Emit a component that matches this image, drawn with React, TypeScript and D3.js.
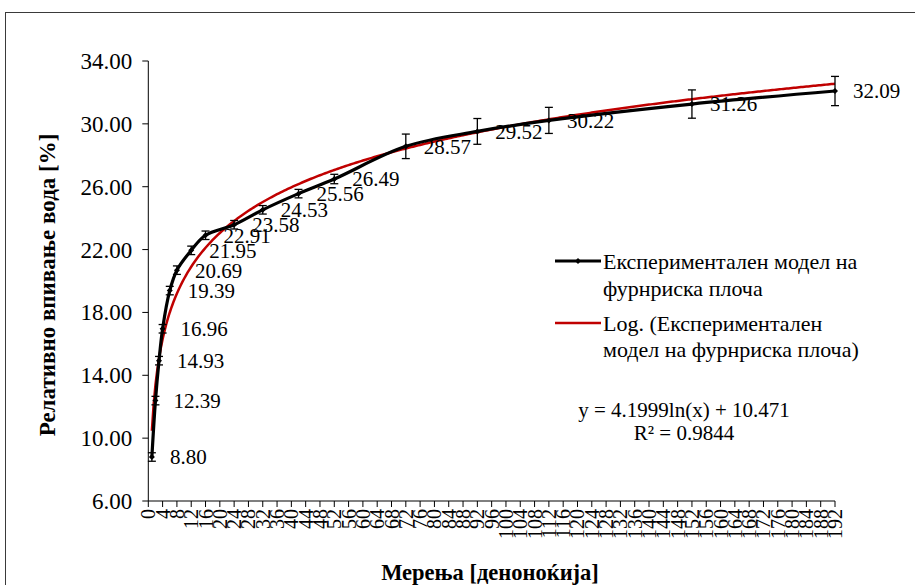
import React from "react";
import * as d3 from "d3";

const days = [1, 2, 3, 4, 6, 8, 12, 16, 24, 32, 42, 52, 72, 92, 112, 152, 192];
const values = [8.8, 12.39, 14.93, 16.96, 19.39, 20.69, 21.95, 22.91, 23.58, 24.53, 25.56, 26.49, 28.57, 29.52, 30.22, 31.26, 32.09];
const errors = [0.27, 0.27, 0.27, 0.27, 0.27, 0.27, 0.27, 0.27, 0.27, 0.27, 0.27, 0.3, 0.78, 0.82, 0.83, 0.9, 0.93];
const yTicks = [6, 10, 14, 18, 22, 26, 30, 34];
const xTicks = d3.range(0, 193, 4);
const trendA = 4.1999;
const trendB = 10.471;
const seriesName = "Експериментален модел на фурнриска плоча";
const legendLines1 = ["Експериментален модел на", "фурнриска плоча"];
const legendLines2 = ["Log. (Експериментален", "модел на фурнриска плоча)"];
const equationText = "y = 4.1999ln(x) + 10.471";
const r2Text = "R² = 0.9844";
const yTitle = "Релативно впивање вода [%]";
const xTitle = "Мерења [деноноќија]";

const FONT = "Liberation Serif, Times New Roman, serif";

export default function App() {
  const W = 915, H = 585;
  const x = d3.scaleLinear().domain([0, 192]).range([148.3, 835]);
  const y = d3.scaleLinear().domain([6, 34]).range([501, 61]);

  const pts = days.map((d, i) => [x(d), y(values[i])] as [number, number]);
  const line = d3.line().curve(d3.curveCatmullRom.alpha(0.5))(pts) || "";
  const trendPts = d3.range(1, 192.01, 0.5).map((t) => [x(t), y(trendA * Math.log(t) + trendB)] as [number, number]);
  const trendPath = d3.line()(trendPts) || "";

  const diamond = (cx: number, cy: number, r: number) =>
    `M${cx},${cy - r}L${cx + r},${cy}L${cx},${cy + r}L${cx - r},${cy}Z`;

  return (
    <svg width={W} height={H} style={{ position: "absolute", left: 0, top: 0, background: "#fff", fontFamily: FONT }}>
      <rect x={0} y={0} width={W} height={H} fill="#fff" />
      <rect x={5.5} y={12.5} width={W + 20} height={H + 20} fill="none" stroke="#3a3a3a" strokeWidth={1} />

      {/* Y axis */}
      <line x1={x(0)} x2={x(0)} y1={y(34)} y2={y(6)} stroke="#000" strokeWidth={1} />
      {yTicks.map((t) => (
        <g key={"yt" + t}>
          <line x1={x(0) - 6} x2={x(0)} y1={y(t)} y2={y(t)} stroke="#000" />
          <text x={x(0) - 16} y={y(t)} dy="0.35em" textAnchor="end" fontSize={23} fill="#000">
            {t.toFixed(2)}
          </text>
        </g>
      ))}

      {/* X axis */}
      <line x1={x(0)} x2={x(192)} y1={y(6)} y2={y(6)} stroke="#000" strokeWidth={1} />
      {xTicks.map((t) => (
        <g key={"xt" + t}>
          <line x1={x(t)} x2={x(t)} y1={y(6)} y2={y(6) + 6} stroke="#000" />
          <text
            transform={`translate(${x(t)},${y(6) + 8}) rotate(-90)`}
            dy="0.35em"
            textAnchor="end"
            fontSize={20}
            fill="#000"
          >
            {t}
          </text>
        </g>
      ))}

      {/* Trendline */}
      <path d={trendPath} fill="none" stroke="#c00000" strokeWidth={2.5} />

      {/* Series */}
      <path d={line} fill="none" stroke="#000" strokeWidth={3.2} />
      {days.map((d, i) => {
        const cx = x(d);
        const top = y(values[i] + errors[i]);
        const bot = y(values[i] - errors[i]);
        return (
          <g key={"e" + i} stroke="#000" strokeWidth={1.3}>
            <line x1={cx} x2={cx} y1={top} y2={bot} />
            <line x1={cx - 4} x2={cx + 4} y1={top} y2={top} />
            <line x1={cx - 4} x2={cx + 4} y1={bot} y2={bot} />
          </g>
        );
      })}
      {pts.map((p, i) => (
        <path key={"m" + i} d={diamond(p[0], p[1], 3)} fill="#000" />
      ))}
      {pts.map((p, i) => (
        <text key={"l" + i} x={p[0] + 18} y={p[1]} dy="0.35em" fontSize={21} fill="#000">
          {values[i].toFixed(2)}
        </text>
      ))}

      {/* Legend */}
      <g>
        <line x1={555} x2={601} y1={261} y2={261} stroke="#000" strokeWidth={3.2} />
        <path d={diamond(578, 261, 3)} fill="#000" />
        <text x={603} y={261} dy="0.35em" fontSize={22} fill="#000">{legendLines1[0]}</text>
        <text x={603} y={288} dy="0.35em" fontSize={22} fill="#000">{legendLines1[1]}</text>
        <line x1={555} x2={601} y1={323} y2={323} stroke="#c00000" strokeWidth={2.5} />
        <text x={603} y={323} dy="0.35em" fontSize={22} fill="#000">{legendLines2[0]}</text>
        <text x={603} y={349} dy="0.35em" fontSize={22} fill="#000">{legendLines2[1]}</text>
      </g>

      {/* Equation */}
      <text x={684} y={410} dy="0.35em" textAnchor="middle" fontSize={21} fill="#000">{equationText}</text>
      <text x={684} y={433} dy="0.35em" textAnchor="middle" fontSize={21} fill="#000">{r2Text}</text>

      {/* Axis titles */}
      <text
        transform={`translate(47,285) rotate(-90)`}
        dy="0.35em"
        textAnchor="middle"
        fontSize={23}
        fontWeight="bold"
        fill="#000"
      >
        {yTitle}
      </text>
      <text x={490} y={572} dy="0.35em" textAnchor="middle" fontSize={22.5} fontWeight="bold" fill="#000">
        {xTitle}
      </text>
      <title>{seriesName}</title>
    </svg>
  );
}
